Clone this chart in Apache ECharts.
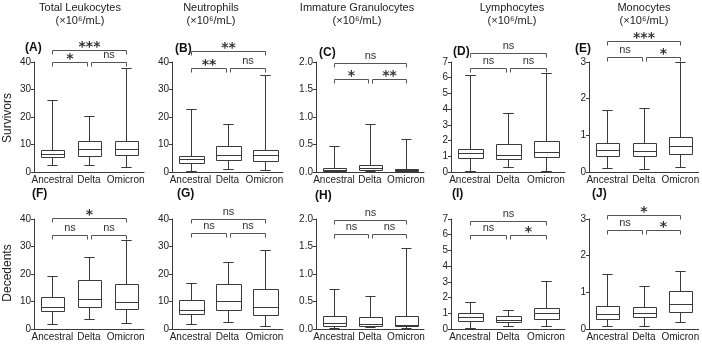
<!DOCTYPE html>
<html>
<head>
<meta charset="utf-8">
<script src="https://cdn.jsdelivr.net/npm/echarts@6/dist/echarts.min.js"></script>
<style>
  html, body { margin: 0; padding: 0; background: #fff; }
  #chart { width: 702px; height: 344px; }
</style>
</head>
<body>
<div id="chart"></div>
<script>
// categories and labels
const categories = ['Ancestral', 'Delta', 'Omicron'];
const panelTitles = ['Total Leukocytes', 'Neutrophils', 'Immature Granulocytes', 'Lymphocytes', 'Monocytes'];
const unitLabel = '(×10⁶/mL)';
const rowNames = ['Survivors', 'Decedents'];
const panelLetters = ['(A)', '(B)', '(C)', '(D)', '(E)', '(F)', '(G)', '(H)', '(I)', '(J)'];

// box values per category: [min, q1, median, q3, max]
const leukSurv = [[2.6, 5.3, 6.5, 8.0, 26.2], [2.6, 6.0, 8.3, 11.1, 20.3], [1.7, 6.2, 8.4, 11.1, 37.7]];
const neutSurv = [[0.5, 3.3, 4.6, 5.9, 22.9], [1.2, 4.3, 6.2, 9.4, 17.4], [0.7, 4.1, 6.1, 8.0, 35.2]];
const igSurv = [[0.0, 0.02, 0.04, 0.08, 0.48], [0.01, 0.04, 0.07, 0.12, 0.88], [0.0, 0.01, 0.03, 0.06, 0.60]];
const lymphSurv = [[0.05, 0.88, 1.18, 1.45, 6.15], [0.3, 0.82, 1.1, 1.78, 3.78], [0.05, 0.95, 1.28, 1.95, 6.3]];
const monoSurv = [[0.1, 0.43, 0.6, 0.8, 1.69], [0.08, 0.44, 0.58, 0.8, 1.75], [0.14, 0.5, 0.72, 0.95, 3.0]];
const leukDec = [[1.9, 6.4, 7.9, 11.5, 19.3], [3.5, 8.0, 11.0, 18.0, 26.2], [2.1, 7.4, 9.8, 16.2, 32.2]];
const neutDec = [[1.7, 5.6, 6.8, 10.4, 16.8], [2.7, 7.0, 10.1, 16.3, 24.3], [1.2, 5.2, 8.0, 14.5, 28.6]];
const igDec = [[0.02, 0.06, 0.11, 0.24, 0.73], [0.03, 0.06, 0.09, 0.22, 0.6], [0.01, 0.05, 0.07, 0.24, 1.48]];
const lymphDec = [[0.08, 0.53, 0.77, 1.05, 1.72], [0.18, 0.42, 0.57, 0.8, 1.23], [0.18, 0.62, 1.02, 1.35, 3.08]];
const monoDec = [[0.07, 0.28, 0.4, 0.63, 1.5], [0.07, 0.33, 0.45, 0.6, 1.16], [0.18, 0.47, 0.68, 1.05, 1.58]];

const panelData = [leukSurv, neutSurv, igSurv, lymphSurv, monoSurv, leukDec, neutDec, igDec, lymphDec, monoDec];

// y axis per column
const yMax = [40, 40, 2, 7, 3];
const yStep = [10, 10, 0.5, 1, 1];

// significance: [Ancestral-Omicron, Ancestral-Delta, Delta-Omicron]
const sigLabels = [
  ['***', '*', 'ns'], ['**', '**', 'ns'], ['ns', '*', '**'], ['ns', 'ns', 'ns'], ['***', 'ns', '*'],
  ['*', 'ns', 'ns'], ['ns', 'ns', 'ns'], ['ns', 'ns', 'ns'], ['ns', 'ns', '*'], ['*', 'ns', '*']
];

// layout
const colLeft = [34, 172, 316, 451, 589];
const colWidth = [110, 111, 108, 114, 111];
const rowTop = [62, 219];
const plotH = 110;
const titleX = [80, 211, 357, 512, 644];
// bracket line offsets from plot top: [outer, inner]
const bracketDy = [[-12, 0], [-11, 6], [1, 17], [-9, 6], [-21, -5], [-1, 16], [0, 14], [1, 15], [2, 16], [-4, 11]];
const letterPos = [[25, 48], [175, 49], [319, 53], [453, 52], [575, 49], [32, 194], [177, 194], [315, 196], [452, 194], [592, 194]];
const rowNameY = [118, 273];

const FONT = '"Liberation Sans", Arial, sans-serif';
const lineColor = '#3a3a3a';
const bracketColor = '#555';

const chart = echarts.init(document.getElementById('chart'), null, { renderer: 'canvas' });

const crisp = (v) => Math.round(v) + 0.5;

function renderBox(params, api) {
  const x = api.value(0);
  const band = api.size([1, 0])[0];
  const bw = band * 0.65;
  const cw = band * 0.28;
  const cx = crisp(api.coord([x, 0])[0]);
  const yMin = crisp(api.coord([x, api.value(1)])[1]);
  const yQ1 = crisp(api.coord([x, api.value(2)])[1]);
  const yMed = crisp(api.coord([x, api.value(3)])[1]);
  const yQ3 = crisp(api.coord([x, api.value(4)])[1]);
  const yMx = crisp(api.coord([x, api.value(5)])[1]);
  const st = { stroke: lineColor, lineWidth: 1, fill: null };
  const bl = Math.round(cx - bw / 2) + 0.5;
  const br = Math.round(cx + bw / 2) + 0.5;
  return {
    type: 'group',
    children: [
      { type: 'line', shape: { x1: cx, y1: yMx, x2: cx, y2: yQ3 }, style: st },
      { type: 'line', shape: { x1: cx, y1: yQ1, x2: cx, y2: yMin }, style: st },
      { type: 'line', shape: { x1: cx - cw / 2, y1: yMx, x2: cx + cw / 2, y2: yMx }, style: st },
      { type: 'line', shape: { x1: cx - cw / 2, y1: yMin, x2: cx + cw / 2, y2: yMin }, style: st },
      { type: 'rect', shape: { x: bl, y: yQ3, width: br - bl, height: yQ1 - yQ3 }, style: { stroke: lineColor, lineWidth: 1, fill: '#fff' } },
      { type: 'line', shape: { x1: bl, y1: yMed, x2: br, y2: yMed }, style: st }
    ]
  };
}

function makeBracketRender(p) {
  return function (params, api) {
    const i = params.dataIndex;
    const top = params.coordSys.y;
    const dy = i === 0 ? bracketDy[p][0] : bracketDy[p][1];
    const y = Math.round(top + dy) + 0.5;
    let x1 = crisp(api.coord([api.value(0), 0])[0]);
    let x2 = crisp(api.coord([api.value(1), 0])[0]);
    if (i === 1) x2 -= 2;
    if (i === 2) x1 += 2;
    const label = sigLabels[p][i];
    const star = label !== 'ns';
    return {
      type: 'group',
      children: [
        { type: 'polyline', shape: { points: [[x1, y + 4], [x1, y], [x2, y], [x2, y + 4]] }, style: { stroke: bracketColor, lineWidth: 1, fill: null } },
        {
          type: 'text', x: (x1 + x2) / 2, y: star ? y - 3.5 : y - 8,
          style: {
            text: label, align: 'center', verticalAlign: 'middle', fill: '#333',
            font: star ? 'bold 14px "DejaVu Sans", sans-serif' : '11px ' + FONT
          }
        }
      ]
    };
  };
}

const grid = [], xAxis = [], yAxis = [], series = [], graphic = [];

for (let p = 0; p < 10; p++) {
  const c = p % 5, r = Math.floor(p / 5);
  grid.push({ left: colLeft[c], top: rowTop[r], width: colWidth[c], height: plotH });
  xAxis.push({
    gridIndex: p, type: 'category', data: categories,
    axisLine: { lineStyle: { color: lineColor, width: 1 } },
    axisTick: { alignWithLabel: true, length: 3, lineStyle: { color: lineColor } },
    axisLabel: { interval: 0, fontSize: 10, fontFamily: FONT, color: '#222', margin: 3 },
    splitLine: { show: false }
  });
  yAxis.push({
    gridIndex: p, type: 'value', min: 0, max: yMax[c], interval: yStep[c],
    axisLine: { show: true, lineStyle: { color: lineColor, width: 1 } },
    axisTick: { show: true, length: 3, lineStyle: { color: lineColor } },
    axisLabel: {
      fontSize: 10, fontFamily: FONT, color: '#222', margin: 3,
      formatter: (v) => (yStep[c] < 1 ? v.toFixed(1) : String(v))
    },
    splitLine: { show: false }
  });
  series.push({
    type: 'custom', xAxisIndex: p, yAxisIndex: p,
    data: panelData[p].map((d, i) => [i].concat(d)),
    encode: { x: 0, y: [1, 2, 3, 4, 5] },
    renderItem: renderBox, silent: true, z: 3
  });
  series.push({
    type: 'custom', xAxisIndex: p, yAxisIndex: p,
    data: [[0, 2], [0, 1], [1, 2]],
    encode: { x: [0, 1] },
    renderItem: makeBracketRender(p), silent: true, clip: false, z: 4
  });
  graphic.push({
    type: 'text', x: letterPos[p][0], y: letterPos[p][1],
    style: { text: panelLetters[p], font: 'bold 12px ' + FONT, fill: '#111', verticalAlign: 'middle' }
  });
}

for (let c = 0; c < 5; c++) {
  graphic.push({
    type: 'text', x: titleX[c], y: 1,
    style: {
      text: panelTitles[c] + '\n' + unitLabel, align: 'center', verticalAlign: 'top',
      font: '11px ' + FONT, lineHeight: 13, fill: '#222'
    }
  });
}

for (let r = 0; r < 2; r++) {
  graphic.push({
    type: 'text', x: 8, y: rowNameY[r], rotation: Math.PI / 2,
    style: { text: rowNames[r], align: 'center', verticalAlign: 'middle', font: '12px ' + FONT, fill: '#222' }
  });
}

chart.setOption({ animation: false, grid, xAxis, yAxis, series, graphic });
</script>
</body>
</html>
